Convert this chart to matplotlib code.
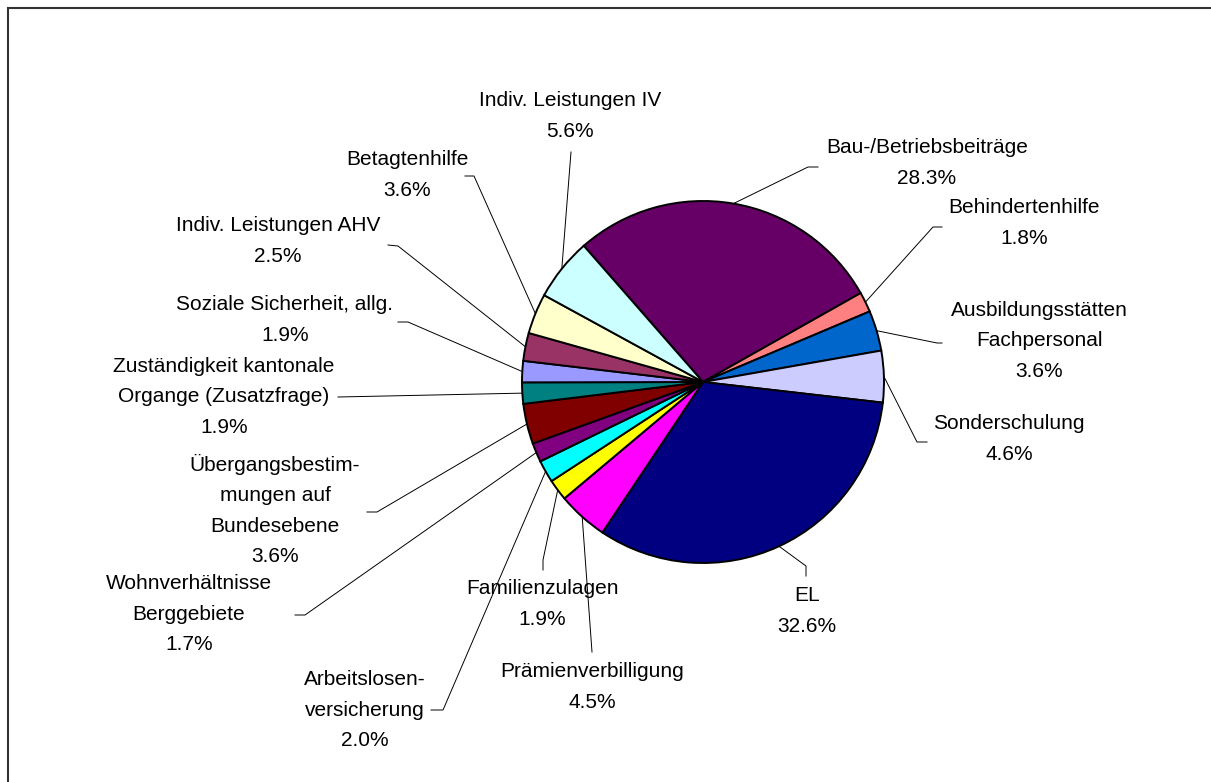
import matplotlib
matplotlib.use('Agg')
import matplotlib.pyplot as plt
import numpy as np

plt.rcParams['font.family'] = ['Liberation Sans', 'DejaVu Sans']

W, H = 1211, 782

labels = ['Bau-/Betriebsbeiträge', 'Behindertenhilfe', 'Ausbildungsstätten\nFachpersonal',
          'Sonderschulung', 'EL', 'Prämienverbilligung', 'Familienzulagen',
          'Arbeitslosen-\nversicherung', 'Wohnverhältnisse\nBerggebiete',
          'Übergangsbestim-\nmungen auf\nBundesebene',
          'Zuständigkeit kantonale\nOrgange (Zusatzfrage)', 'Soziale Sicherheit, allg.',
          'Indiv. Leistungen AHV', 'Betagtenhilfe', 'Indiv. Leistungen IV']
values = [28.3, 1.8, 3.6, 4.6, 32.6, 4.5, 1.9, 2.0, 1.7, 3.6, 1.9, 1.9, 2.5, 3.6, 5.6]
colors = ['#660066', '#FF8080', '#0066CC', '#CCCCFF', '#000080', '#FF00FF', '#FFFF00',
          '#00FFFF', '#800080', '#800000', '#008080', '#9999FF', '#993366', '#FFFFCC',
          '#CCFFFF']

# layout in pixels (y from top): text centre, leader knee, leader end
text_pos = [(927, 163), (1024, 223), (1039, 341), (1009, 439), (807, 611), (592, 687),
            (542, 604), (365, 710), (189, 614), (275, 510), (224, 397), (285, 320),
            (278, 241), (407, 175), (570, 116)]
knees = [(808, 167), (933, 227), (937, 343), (917, 442), (806, 566), (592, 652),
         (543, 560), (443, 710), (305, 615), (377, 512), (338, 397), (408, 322),
         (398, 246), (474, 176), (571, 152)]
ends = [(818, 167), (942, 227), (942, 343), (927, 442), (806, 576), (592, 652),
        (543, 570), (431, 710), (295, 615), (367, 512), (338, 397), (398, 322),
        (388, 245), (465, 176), (571, 152)]

cx, cy, r = 703, 382, 181

fig = plt.figure(figsize=(W / 100, H / 100), dpi=100)
ax = fig.add_axes([0, 0, 1, 1])

wedges, _ = ax.pie(values, colors=colors, startangle=131.2, counterclock=False,
                   center=(cx, H - cy), radius=r,
                   wedgeprops=dict(edgecolor='black', linewidth=1.4))

for i, w in enumerate(wedges):
    mid = np.deg2rad((w.theta1 + w.theta2) / 2)
    px, py = cx + r * np.cos(mid), H - cy + r * np.sin(mid)
    xs = [px, knees[i][0], ends[i][0]]
    ys = [py, H - knees[i][1], H - ends[i][1]]
    ax.plot(xs, ys, color='black', lw=0.7, zorder=1)
    ax.text(text_pos[i][0], H - text_pos[i][1], labels[i] + '\n' + f'{values[i]:.1f}%',
            ha='center', va='center', multialignment='center', fontsize=15,
            linespacing=1.74, color='black')

# chart frame (cut off at right and bottom)
ax.plot([8, 8], [0, H - 8], color='#333333', lw=1.5, solid_capstyle='projecting')
ax.plot([8, W], [H - 8, H - 8], color='#333333', lw=1.5, solid_capstyle='projecting')

ax.set_xlim(0, W)
ax.set_ylim(0, H)
ax.set_aspect('equal')
ax.set_axis_off()

fig.savefig('out.png', dpi=100)
